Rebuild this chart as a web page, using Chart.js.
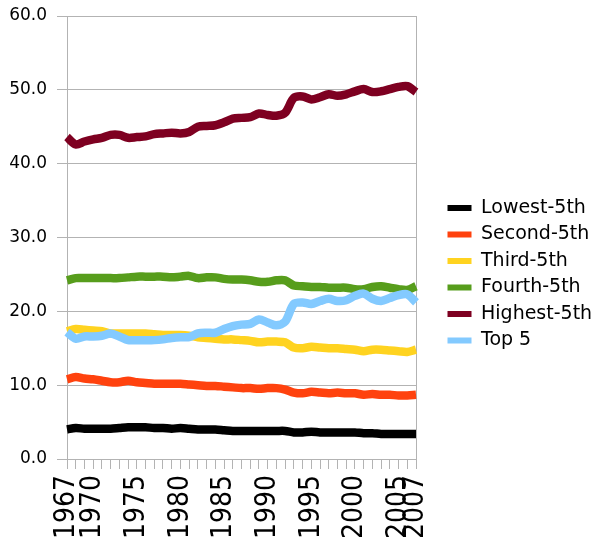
<!DOCTYPE html>
<html>
<head>
<meta charset="utf-8">
<script src="https://cdn.jsdelivr.net/npm/chart.js@4/dist/chart.umd.min.js"></script>
<style>
  html, body { margin: 0; padding: 0; background: #fff; }
  #wrap { width: 595px; height: 537px; position: relative; }
</style>
</head>
<body>
<div id="wrap"><canvas id="shareChart"></canvas></div>
<script>
// Share of aggregate income by group, 1967-2007 (percent)
const years = [];
for (let y = 1967; y <= 2007; y++) years.push(String(y));

const shownYears = ['1967', '1970', '1975', '1980', '1985', '1990', '1995', '2000', '2005', '2007'];
const yTicks = [0, 10, 20, 30, 40, 50, 60];

const seriesNames = ['Lowest-5th', 'Second-5th', 'Third-5th', 'Fourth-5th', 'Highest-5th', 'Top 5'];
const seriesColors = ['#000000', '#ff420e', '#ffd320', '#579d1c', '#7e0021', '#83caff'];

const lowest = [4.0, 4.2, 4.1, 4.1, 4.1, 4.1, 4.2, 4.3, 4.3, 4.3, 4.2, 4.2, 4.1, 4.2, 4.1, 4.0, 4.0, 4.0, 3.9, 3.8, 3.8,
  3.8, 3.8, 3.8, 3.8, 3.8, 3.6, 3.6, 3.7, 3.6, 3.6, 3.6, 3.6, 3.6, 3.5, 3.5, 3.4, 3.4, 3.4, 3.4, 3.4];
const second = [10.8, 11.1, 10.9, 10.8, 10.6, 10.4, 10.4, 10.6, 10.4, 10.3, 10.2, 10.2, 10.2, 10.2, 10.1, 10.0, 9.9, 9.9, 9.8, 9.7, 9.6,
  9.6, 9.5, 9.6, 9.6, 9.4, 9.0, 8.9, 9.1, 9.0, 8.9, 9.0, 8.9, 8.9, 8.7, 8.8, 8.7, 8.7, 8.6, 8.6, 8.7];
const third = [17.3, 17.6, 17.5, 17.4, 17.3, 17.0, 17.0, 17.0, 17.0, 17.0, 16.9, 16.8, 16.8, 16.8, 16.7, 16.5, 16.4, 16.3, 16.2, 16.2, 16.1,
  16.0, 15.8, 15.9, 15.9, 15.8, 15.1, 15.0, 15.2, 15.1, 15.0, 15.0, 14.9, 14.8, 14.6, 14.8, 14.8, 14.7, 14.6, 14.5, 14.8];
const fourth = [24.2, 24.5, 24.5, 24.5, 24.5, 24.5, 24.5, 24.6, 24.7, 24.7, 24.7, 24.7, 24.6, 24.7, 24.8, 24.5, 24.6, 24.6, 24.4, 24.3, 24.3,
  24.2, 24.0, 24.0, 24.2, 24.2, 23.5, 23.4, 23.3, 23.3, 23.2, 23.2, 23.2, 23.0, 23.0, 23.3, 23.4, 23.2, 23.0, 22.9, 23.4];
const highest = [43.6, 42.6, 43.0, 43.3, 43.5, 43.9, 43.9, 43.5, 43.6, 43.7, 44.0, 44.1, 44.2, 44.1, 44.3, 45.0, 45.1, 45.2, 45.6, 46.1, 46.2,
  46.3, 46.8, 46.6, 46.5, 46.9, 48.9, 49.1, 48.7, 49.0, 49.4, 49.2, 49.4, 49.8, 50.1, 49.7, 49.8, 50.1, 50.4, 50.5, 49.7];
const top5 = [17.2, 16.3, 16.6, 16.6, 16.7, 17.0, 16.6, 16.1, 16.1, 16.1, 16.1, 16.2, 16.4, 16.5, 16.5, 17.0, 17.1, 17.1, 17.6, 18.0, 18.2,
  18.3, 18.9, 18.5, 18.1, 18.6, 21.0, 21.2, 21.0, 21.4, 21.7, 21.4, 21.5, 22.1, 22.4, 21.7, 21.4, 21.8, 22.2, 22.3, 21.2];

const seriesValues = [lowest, second, third, fourth, highest, top5];

// put the legend where the original has it
const legendPlace = {
  id: 'legendPlace',
  afterUpdate(chart) {
    const lg = chart.legend;
    const w = lg.width, h = lg.height;
    lg.left = 440; lg.right = lg.left + w;
    lg.top = 191; lg.bottom = lg.top + h;
  }
};

const gridColor = '#b3b3b3';

const ctx = document.getElementById('shareChart').getContext('2d');
const shareChart = new Chart(ctx, {
    type: 'line',
    data: {
        labels: years,
        datasets: seriesNames.map((name, i) => ({
            label: name,
            data: seriesValues[i],
            borderColor: seriesColors[i],
            backgroundColor: seriesColors[i],
            borderWidth: 8.5,
            pointRadius: 0,
            pointHoverRadius: 0,
            tension: 0.3,
            borderJoinStyle: 'round',
            fill: false,
            order: seriesNames.length - i
        }))
    },
    options: {
        responsive: true,
        maintainAspectRatio: false,
        animation: false,
        layout: { padding: { top: 16, right: 179, bottom: 0, left: 0 } },
        plugins: {
            tooltip: { enabled: false },
            legend: {
                position: 'chartArea',
                align: 'start',
                labels: {
                    boxWidth: 24,
                    boxHeight: 6,
                    padding: 7.5,
                    color: '#000',
                    font: { family: 'DejaVu Sans', size: 19 },
                    sort: (a, b) => a.datasetIndex - b.datasetIndex,
                    generateLabels: function(chart) {
                        return Chart.defaults.plugins.legend.labels.generateLabels(chart)
                            .map(l => Object.assign(l, { lineWidth: 0 }));
                    }
                }
            }
        },
        scales: {
            x: {
                offset: false,
                afterFit: s => { s.height = 78; s.paddingLeft = 0; s.paddingRight = 0; },
                grid: {
                    color: c => (c.index === years.length - 1 ? gridColor : 'rgba(0,0,0,0)'),
                    tickColor: gridColor,
                    tickLength: 10,
                    lineWidth: 1
                },
                border: { color: gridColor },
                ticks: {
                    autoSkip: false,
                    minRotation: 90,
                    maxRotation: 90,
                    padding: 6,
                    color: '#000',
                    font: { family: "'Liberation Sans Narrow', 'DejaVu Sans Condensed', sans-serif", size: 28 },
                    callback: function(value, index) {
                        const lab = years[index];
                        return shownYears.includes(lab) ? lab : '';
                    }
                }
            },
            y: {
                min: yTicks[0],
                max: yTicks[yTicks.length - 1],
                afterFit: s => { s.width = 67; s.paddingTop = 0; s.paddingBottom = 0; },
                grid: { color: gridColor, tickLength: 10 },
                border: { color: gridColor },
                ticks: {
                    stepSize: yTicks[1] - yTicks[0],
                    padding: 10,
                    color: '#000',
                    font: { family: 'DejaVu Sans', size: 17 },
                    callback: v => v.toFixed(1)
                }
            }
        }
    },
    plugins: [legendPlace]
});
</script>
</body>
</html>
